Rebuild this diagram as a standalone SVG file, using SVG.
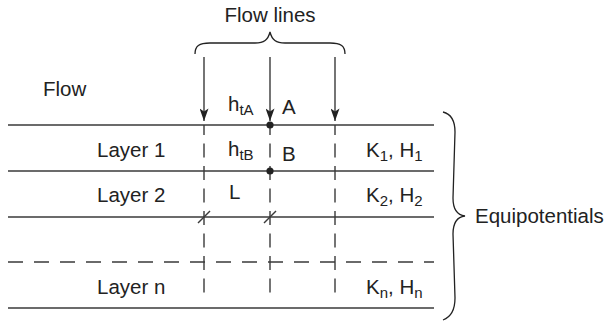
<svg xmlns="http://www.w3.org/2000/svg" width="609" height="325" viewBox="0 0 609 325">
<defs>
<style>
.ln{stroke:#3a3a3a;stroke-width:1.4;fill:none}
.vd{stroke:#3a3a3a;stroke-width:1.4;fill:none;stroke-dasharray:14 8.5;stroke-dashoffset:4}
.hd{stroke:#3a3a3a;stroke-width:1.4;fill:none;stroke-dasharray:15 11}
.br{stroke:#222;stroke-width:1.3;fill:none}
text{font-family:"Liberation Sans",Arial,sans-serif;font-size:20.5px;fill:#222}
.sub{font-size:15px}
</style>
<marker id="ah" viewBox="0 0 14 10" refX="14" refY="5" markerWidth="14" markerHeight="9" markerUnits="userSpaceOnUse" orient="auto">
<path d="M0,0 L14,5 L0,10 L3.5,5 Z" fill="#222"/>
</marker>
</defs>

<g id="layers">
<line class="ln" x1="8" y1="125" x2="434" y2="125"/>
<line class="ln" x1="8" y1="171" x2="434" y2="171"/>
<line class="ln" x1="8" y1="217" x2="434" y2="217"/>
<line class="hd" x1="8" y1="262" x2="434" y2="262"/>
<line class="ln" x1="8" y1="308" x2="434" y2="308"/>
</g>

<g id="connectors">
<line class="ln" x1="204" y1="57" x2="204" y2="121" marker-end="url(#ah)"/>
<line class="ln" x1="270" y1="57" x2="270" y2="121" marker-end="url(#ah)"/>
<line class="ln" x1="335" y1="57" x2="335" y2="121" marker-end="url(#ah)"/>
<line class="vd" x1="204" y1="125" x2="204" y2="301"/>
<line class="vd" x1="270" y1="125" x2="270" y2="301"/>
<line class="vd" x1="335" y1="125" x2="335" y2="301"/>
<line class="ln" x1="198" y1="223" x2="210" y2="211"/>
<line class="ln" x1="264" y1="223" x2="276" y2="211"/>
</g>

<g id="points">
<circle cx="270" cy="125" r="3.6" fill="#222"/>
<circle cx="270" cy="171" r="3.6" fill="#222"/>
</g>

<g id="brace-flow">
<path class="br" d="M195,54 C195,46 199,43 210,43 L255,43 C264,43 268,40 270,32 C272,40 276,43 285,43 L330,43 C341,43 345,46 345,54"/>
<text x="270" y="22" text-anchor="middle">Flow lines</text>
</g>

<g id="brace-equi">
<path class="br" d="M443,112 C451,114 455,120 455,132 L453,198 C453,210 457,215 465,216 C457,217 453,222 453,234 L455,298 C455,310 451,317 443,320"/>
<text x="475" y="223">Equipotentials</text>
</g>

<g id="labels">
<text x="43" y="96">Flow</text>
<text x="97" y="157">Layer 1</text>
<text x="97" y="202">Layer 2</text>
<text x="97" y="294">Layer n</text>
<text x="228" y="111">h<tspan class="sub" dy="4">tA</tspan></text>
<text x="282" y="114">A</text>
<text x="228" y="156">h<tspan class="sub" dy="4">tB</tspan></text>
<text x="282" y="161">B</text>
<text x="229" y="199">L</text>
<text x="366" y="157">K<tspan class="sub" dy="4">1</tspan><tspan dy="-4">, H</tspan><tspan class="sub" dy="4">1</tspan></text>
<text x="366" y="202">K<tspan class="sub" dy="4">2</tspan><tspan dy="-4">, H</tspan><tspan class="sub" dy="4">2</tspan></text>
<text x="366" y="294">K<tspan class="sub" dy="4">n</tspan><tspan dy="-4">, H</tspan><tspan class="sub" dy="4">n</tspan></text>
</g>
</svg>
